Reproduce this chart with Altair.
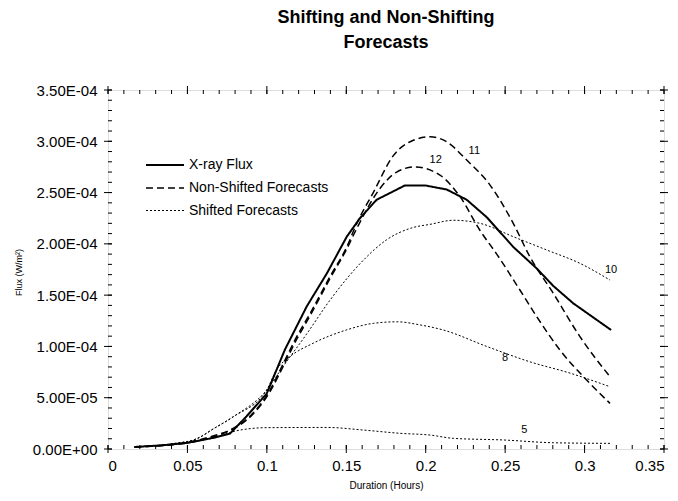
import altair as alt
import pandas as pd

FONT = "Liberation Sans"

# ---- data (x in hours, flux in W/m^2) ----
xray_x = [0.0167, 0.0333, 0.05, 0.0667, 0.0768, 0.0873, 0.0999, 0.1114, 0.1251, 0.1377,
          0.1503, 0.1586, 0.1691, 0.187, 0.1995, 0.2132, 0.2258, 0.2384, 0.2551, 0.2699,
          0.2803, 0.2929, 0.3167]
xray_y = [0.02e-4, 0.035e-4, 0.06e-4, 0.11e-4, 0.15e-4, 0.32e-4, 0.54e-4, 0.97e-4, 1.39e-4, 1.71e-4,
          2.07e-4, 2.25e-4, 2.43e-4, 2.57e-4, 2.57e-4, 2.53e-4, 2.43e-4, 2.26e-4, 1.97e-4, 1.76e-4,
          1.59e-4, 1.42e-4, 1.16e-4]

f11_x = [0.0167, 0.05, 0.0667, 0.0768, 0.09, 0.102, 0.1104, 0.1188, 0.1272, 0.1397, 0.1503,
         0.1566, 0.167, 0.1796, 0.1922, 0.2027, 0.2132, 0.2258, 0.2405, 0.2551, 0.2656, 0.2803,
         0.2971, 0.316]
f11_y = [0.02e-4, 0.065e-4, 0.13e-4, 0.185e-4, 0.33e-4, 0.575e-4, 0.835e-4, 1.095e-4, 1.32e-4, 1.68e-4, 1.97e-4,
         2.2e-4, 2.5e-4, 2.86e-4, 3.01e-4, 3.044e-4, 2.995e-4, 2.817e-4, 2.573e-4, 2.2e-4, 1.874e-4, 1.518e-4,
         1.095e-4, 0.705e-4]

f12_x = [0.0167, 0.05, 0.0667, 0.0768, 0.09, 0.102, 0.1104, 0.1188, 0.1272, 0.1397, 0.1503,
         0.1566, 0.1712, 0.1817, 0.193, 0.209, 0.2216, 0.2342, 0.2447, 0.2593, 0.2699, 0.2845,
         0.3013, 0.316]
f12_y = [0.02e-4, 0.06e-4, 0.12e-4, 0.18e-4, 0.32e-4, 0.56e-4, 0.81e-4, 1.07e-4, 1.30e-4, 1.66e-4, 1.95e-4,
         2.15e-4, 2.54e-4, 2.70e-4, 2.75e-4, 2.67e-4, 2.46e-4, 2.13e-4, 1.9e-4, 1.55e-4, 1.29e-4, 0.965e-4,
         0.672e-4, 0.445e-4]

s10_x = [0.0167, 0.04, 0.0558, 0.0667, 0.0789, 0.0999, 0.11, 0.125, 0.1397, 0.1607, 0.1754,
         0.1922, 0.2027, 0.2174, 0.2342, 0.2551, 0.2762, 0.2971, 0.316]
s10_y = [0.02e-4, 0.05e-4, 0.10e-4, 0.2e-4, 0.315e-4, 0.575e-4, 0.8e-4, 1.12e-4, 1.45e-4, 1.84e-4, 2.04e-4,
         2.16e-4, 2.19e-4, 2.23e-4, 2.20e-4, 2.07e-4, 1.94e-4, 1.81e-4, 1.647e-4]

s8_x = [0.0167, 0.04, 0.0558, 0.0667, 0.0789, 0.0999, 0.106, 0.1145, 0.129, 0.150, 0.167,
        0.182, 0.1964, 0.2111, 0.2384, 0.2656, 0.2908, 0.316]
s8_y = [0.02e-4, 0.05e-4, 0.10e-4, 0.2e-4, 0.315e-4, 0.575e-4, 0.77e-4, 0.9e-4, 1.03e-4, 1.16e-4, 1.225e-4,
        1.24e-4, 1.21e-4, 1.16e-4, 1.0e-4, 0.85e-4, 0.74e-4, 0.607e-4]

s5_x = [0.0167, 0.05, 0.0667, 0.0768, 0.081, 0.0999, 0.1377, 0.1607, 0.1838, 0.2027, 0.2174,
        0.2488, 0.2803, 0.316]
s5_y = [0.02e-4, 0.06e-4, 0.11e-4, 0.16e-4, 0.178e-4, 0.208e-4, 0.21e-4, 0.185e-4, 0.153e-4, 0.136e-4, 0.104e-4,
        0.088e-4, 0.061e-4, 0.055e-4]

curve_labels = ["11", "12", "10", "8", "5"]
label_x = [0.2306, 0.2063, 0.3167, 0.25, 0.262]
label_y = [2.91e-4, 2.82e-4, 1.75e-4, 0.89e-4, 0.19e-4]

series_names = ["X-ray Flux", "Non-Shifted Forecasts", "Shifted Forecasts"]

x_major = [0, 0.05, 0.1, 0.15, 0.2, 0.25, 0.3, 0.35]
y_major = [0, 0.5e-4, 1.0e-4, 1.5e-4, 2.0e-4, 2.5e-4, 3.0e-4, 3.5e-4]
x_minor = [round(i * 0.01, 2) for i in range(36)]
y_minor = [round(i * 0.1, 1) * 1e-4 for i in range(36)]

# ---- tables ----
rows = []
for cid, ser, xs, ys in [
    ("xray", series_names[0], xray_x, xray_y),
    ("f11", series_names[1], f11_x, f11_y),
    ("f12", series_names[1], f12_x, f12_y),
    ("s10", series_names[2], s10_x, s10_y),
    ("s8", series_names[2], s8_x, s8_y),
    ("s5", series_names[2], s5_x, s5_y),
]:
    for i, (xv, yv) in enumerate(zip(xs, ys)):
        rows.append({"curve": cid, "series": ser, "x": xv, "y": yv, "order": i})
lines_df = pd.DataFrame(rows)
labels_df = pd.DataFrame({"t": curve_labels, "x": label_x, "y": label_y})
xmaj_df = pd.DataFrame({"x": x_major})
ymaj_df = pd.DataFrame({"y": y_major})
xmin_df = pd.DataFrame({"x": x_minor})
ymin_df = pd.DataFrame({"y": y_minor})

W, H = 556, 359
xscale = alt.Scale(domain=[0, 0.35], nice=False, zero=False)
yscale = alt.Scale(domain=[0, 3.5e-4], nice=False, zero=False)

ylabel_expr = ("datum.value == 0 ? '0.00E+00' : "
               "format(datum.value / pow(10, floor(log(datum.value)/LN10 + 1e-9)), '.2f') + 'E-0' + "
               "toString(-floor(log(datum.value)/LN10 + 1e-9))")

# a long, flat legend stroke: path drawn wider than its nominal symbol box
legend = alt.Legend(title=None, orient="none", legendX=46, legendY=64,
                    labelFont=FONT, labelFontSize=14, labelColor="black",
                    symbolType="M-1.9,0H1.9", symbolStrokeColor="black",
                    symbolFillColor="transparent", symbolSize=400,
                    labelOffset=13, rowPadding=5)

xaxis = alt.Axis(values=x_major, format="~g", title="Duration (Hours)",
                 ticks=False, domain=False, grid=False, labelPadding=9,
                 labelFont=FONT, labelFontSize=15, labelColor="black",
                 titleFont=FONT, titleFontSize=10, titleFontWeight="normal",
                 titleColor="black", titlePadding=7)
yaxis = alt.Axis(values=y_major, labelExpr=ylabel_expr, title="Flux (W/m²)",
                 ticks=False, domain=False, grid=False, labelPadding=11,
                 labelFont=FONT, labelFontSize=15, labelColor="black",
                 titleFont=FONT, titleFontSize=9, titleFontWeight="normal",
                 titleColor="black", titleX=-90, titleY=182,
                 titleAlign="center", titleBaseline="middle")

base = alt.Chart(lines_df)
enc_common = dict(
    x=alt.X("x:Q", scale=xscale, axis=xaxis),
    y=alt.Y("y:Q", scale=yscale, axis=yaxis),
    detail="curve:N",
    order="order:Q",
    strokeDash=alt.StrokeDash("series:N",
                              scale=alt.Scale(domain=series_names,
                                              range=[[1, 0], [7, 4], [2, 2]]),
                              legend=legend),
    strokeWidth=alt.StrokeWidth("series:N",
                                scale=alt.Scale(domain=series_names, range=[2, 1, 1.2]),
                                legend=legend),
)

flux_line = base.transform_filter(alt.datum.curve == "xray").mark_line(
    color="black", interpolate="linear").encode(**enc_common)
fc_lines = base.transform_filter(alt.datum.curve != "xray").mark_line(
    color="black", interpolate="monotone").encode(**enc_common)

texts = alt.Chart(labels_df).mark_text(font=FONT, fontSize=11, color="black", align="center",
                                       baseline="middle").encode(
    x=alt.X("x:Q", scale=xscale),
    y=alt.Y("y:Q", scale=yscale),
    text="t:N",
)

def vrule(df, y1, y2):
    return alt.Chart(df).mark_rule(color="black", strokeWidth=1).encode(
        x=alt.X("x:Q", scale=xscale), y=alt.value(y1), y2=alt.value(y2))

def hrule(df, x1, x2):
    return alt.Chart(df).mark_rule(color="black", strokeWidth=1).encode(
        y=alt.Y("y:Q", scale=yscale), x=alt.value(x1), x2=alt.value(x2))

ticks = [
    vrule(xmin_df, H - 4, H), vrule(xmaj_df, H - 4, H + 4),
    vrule(xmin_df, 0, 4), vrule(xmaj_df, -4, 4),
    hrule(ymin_df, 0, 4), hrule(ymaj_df, -4, 4),
    hrule(ymin_df, W - 4, W), hrule(ymaj_df, W - 4, W + 4),
]

chart = alt.layer(flux_line, fc_lines, texts, *ticks).properties(
    width=W, height=H,
    autosize=alt.AutoSizeParams(type="none"),
    padding={"left": 100, "top": 82, "right": 6, "bottom": 44},
    title=alt.TitleParams(text=["Shifting and Non-Shifting", "Forecasts"], font=FONT,
                          fontSize=18, fontWeight="bold", color="black", anchor="middle",
                          lineHeight=25, offset=13, baseline="bottom"),
).configure_view(stroke="black", strokeWidth=1).configure(background="white")

chart.save("out.html", embed_options={"renderer": "svg", "actions": False})
